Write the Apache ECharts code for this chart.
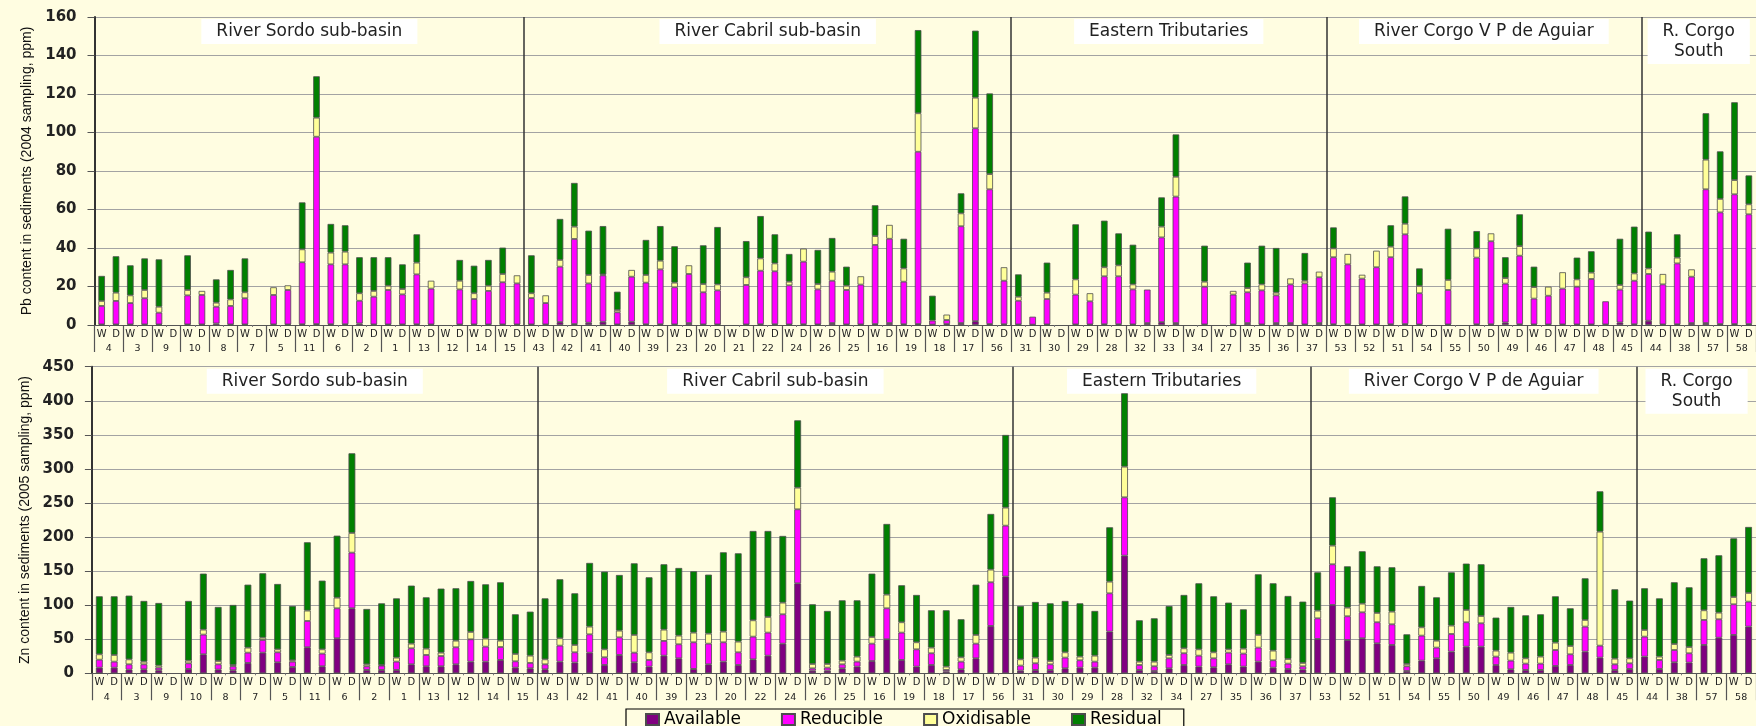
<!DOCTYPE html>
<html><head><meta charset="utf-8">
<script src="https://cdn.jsdelivr.net/npm/echarts@6/dist/echarts.min.js"></script>
<style>html,body{margin:0;padding:0;background:#fffde1;overflow:hidden}#c{width:1756px;height:726px}</style>
</head><body><div id="c"></div><script>
// ---------- DATA ----------
const sampleTypes = ['W', 'D'];
const pbSites = ['4','3','9','10','8','7','5','11','6','2','1','13','12','14','15',
  '43','42','41','40','39','23','20','21','22','24','26','25','16','19','18','17','56',
  '31','30','29','28','32','33','34','27','35','36','37',
  '53','52','51','54','55','50','49','46','47','48','45',
  '44','38','57','58'];
const znSites = ['4','3','9','10','8','7','5','11','6','2','1','13','12','14','15',
  '43','42','41','40','39','23','20','22','24','26','25','16','19','18','17','56',
  '31','30','29','28','32','34','27','35','36','37',
  '53','52','51','54','55','50','49','46','47','48','45',
  '44','38','57','58'];
const regionNames = ['River Sordo sub-basin','River Cabril sub-basin','Eastern Tributaries','River Corgo V P de Aguiar','R. Corgo\nSouth'];
const pbRegionSizes = [15, 17, 11, 11, 4];
const znRegionSizes = [15, 16, 10, 11, 4];
const fractionNames = ['Available', 'Reducible', 'Oxidisable', 'Residual'];
const yTitles = ['Pb content in sediments (2004 sampling, ppm)', 'Zn content in sediments (2005 sampling, ppm)'];

// Pb (2004), values in W,D pairs per site
const pbAvailable = [
  0.3,0.3, 0.3,0.3, 0.3,null, 0.3,0.3, 0.8,0.3, 0.3,null, 0.3,0.3, 0.4,0.5, 0.4,0.4, 0.8,0.3,
  0.3,0.3, 0.4,0.3, null,0.3, 0.3,0.3, 0.3,0.3,
  0.3,0.3, 1.5,0.5, 1.2,1.7, 0.3,1.7, 0.4,0.4, 0.3,1.0, 0.3,0.3, null,0.3, 0.4,0.4, 0.3,0.4, 0.3,1.0, 0.3,0.3, 0.5,1.0, 0.4,0.5, 0.2,0.5, 1.0,2.0, 0.5,0.4,
  0.3,0.2, 0.3,null, 0.3,0.3, 0.4,0.4, 0.3,1.0, 1.5,1.0, null,0.3, null,0.3, 1.0,0.3, 1.0,1.0, 0.3,1.0,
  0.4,0.4, 0.3,0.3, 0.4,0.5, 0.3,null, 0.3,null, 0.4,0.4, 1.3,0.4, 0.3,0.3, 0.3,0.3, 0.3,0.3, 1.3,0.4,
  2.2,0.3, 0.4,1.0, 1.0,0.5, 0.5,0.5];
const pbReducible = [
  9.6,12.2, 11.1,13.6, 6.1,null, 15.1,15.3, 8.7,9.6, 13.6,null, 15.3,17.9, 32.2,97.3, 31.1,31.1, 11.8,14.4,
  17.9,15.6, 25.9,18.6, null,18.2, 13.2,17.4, 21.9,21.3,
  13.7,11.1, 28.8,44.2, 20.4,24.1, 6.3,23.4, 21.6,28.5, 19.3,25.5, 16.7,17.7, null,20.5, 27.8,27.5, 20.3,32.5, 18.2,22.0, 17.9,20.7, 41.1,43.8, 22.1,89.5, 2.1,2.1, 50.3,100.2, 70.0,22.6,
  12.3,4.1, 13.2,null, 15.5,12.0, 24.9,24.9, 18.2,17.4, 44.0,65.7, null,19.6, null,15.5, 16.0,17.7, 14.4,20.1, 21.3,23.8,
  34.8,31.1, 23.8,29.7, 34.8,46.6, 16.2,null, 17.9,null, 34.6,43.1, 20.2,35.6, 13.4,14.9, 18.6,19.6, 23.6,12.0, 17.1,22.6,
  24.3,20.8, 31.6,24.1, 69.5,58.0, 67.4,57.0];
const pbOxidisable = [
  2.6,4.3, 4.0,4.3, 3.1,null, 2.8,2.1, 2.1,3.4, 3.1,null, 4.0,2.4, 6.7,9.9, 6.1,6.6, 3.9,3.0,
  2.2,2.8, 6.1,4.1, null,4.5, 3.0,2.7, 4.3,4.2,
  2.5,4.0, 3.5,6.4, 4.4,0.5, 1.2,3.5, 4.0,4.5, 2.4,4.5, 4.3,3.1, null,4.0, 6.4,4.1, 1.9,6.8, 2.8,4.7, 2.2,4.3, 4.6,7.2, 6.9,20.0, 0,2.8, 6.7,15.9, 7.9,7.0,
  2.1,0, 3.3,null, 7.9,4.2, 4.7,5.7, 2.6,0, 5.6,10.3, null,2.6, null,1.9, 2.2,3.1, 1.4,3.1, 1.4,2.9,
  4.6,5.4, 2.0,8.6, 5.5,5.5, 3.8,null, 5.2,null, 4.8,4.1, 2.9,5.0, 6.0,4.7, 8.5,3.8, 3.3,0, 2.4,3.8,
  2.9,5.4, 3.0,3.8, 15.4,7.0, 7.4,5.2];
const pbResidual = [
  13.0,18.9, 15.6,16.4, 24.6,null, 18.0,0, 12.1,15.3, 17.6,null, 0,0, 24.4,21.5, 14.9,13.7, 18.7,17.5,
  14.8,12.8, 14.7,0, null,10.8, 14.3,13.4, 13.7,0,
  19.7,0, 21.3,22.7, 23.0,25.1, 9.5,0, 18.2,18.0, 18.9,0, 20.1,29.8, null,18.8, 22.0,15.1, 14.4,0, 17.7,17.5, 9.9,0, 16.0,0, 15.4,43.2, 12.9,0, 10.4,34.8, 41.9,0,
  11.6,0, 15.6,null, 28.6,0, 24.2,16.6, 20.6,0, 15.2,22.0, null,18.7, null,0, 13.2,20.1, 23.2,0, 14.4,0,
  10.9,0, 0,0, 11.1,14.2, 9.1,null, 26.6,null, 9.0,0, 10.8,16.5, 10.6,0, 0,11.3, 11.1,0, 24.0,24.3,
  19.1,0, 12.1,0, 24.1,24.7, 40.4,15.0];

// Zn (2005), values in W,D pairs per site
const znAvailable = [
  8.3,8.3, 5.4,5.9, 4.4,null, 6.4,27.9, 5.4,4.4, 15.2,30.3, 16.1,9.3, 38.2,10.3, 51.4,95.4, 4.9,4.9,
  4.9,13.2, 10.3,10.3, 13.2,17.1, 17.1,19.6, 8.3,7.3,
  5.9,17.1, 15.7,30.3, 12.2,26.9, 16.1,9.8, 25.9,22.0, 6.4,13.2, 17.1,12.2, 20.5,25.9, 43.5,132.1, 3.9,3.9, 7.3,9.8, 18.1,49.9, 19.6,9.8, 12.2,2.4, 5.9,22.0, 69.5,141.9,
  3.9,4.9, 4.9,7.3, 8.3,8.3, 61.2,172.7, 4.9,3.4, 7.3,12.2, 9.8,8.8, 13.2,9.8, 17.1,8.3, 6.4,5.4,
  50.4,100.3, 48.9,51.4, 44.0,41.6, 3.4,18.6, 22.0,31.8, 39.1,39.1, 12.2,5.9, 4.9,4.9, 10.8,12.2, 31.8,23.0, 4.9,6.4,
  24.5,6.4, 16.1,15.7, 41.6,52.3, 56.3,68.5];
const znReducible = [
  11.7,8.8, 7.8,7.3, 3.9,null, 8.3,28.9, 7.8,5.9, 15.1,18.6, 14.7,7.8, 38.6,18.6, 44.0,81.7, 5.4,6.4,
  12.2,23.5, 16.6,15.1, 25.0,32.8, 22.0,19.0, 9.3,7.9,
  7.3,23.5, 15.1,26.9, 11.3,25.9, 14.2,9.8, 21.6,20.6, 39.1,30.3, 28.4,18.6, 33.3,33.8, 43.1,108.6, 3.4,4.4, 5.9,7.3, 25.4,45.5, 40.1,25.4, 17.2,2.5, 11.2,21.5, 64.1,74.8,
  7.4,9.8, 8.3,15.7, 10.8,8.8, 56.2,85.6, 7.3,6.9, 14.7,17.2, 16.1,13.2, 17.1,19.1, 20.6,10.8, 7.8,4.9,
  30.3,59.7, 34.8,38.1, 30.9,30.3, 6.9,36.7, 15.7,25.9, 35.8,34.3, 12.3,12.7, 9.3,9.3, 23.4,15.7, 36.7,17.6, 8.3,8.3,
  29.3,13.2, 18.1,13.7, 36.7,27.0, 45.0,36.7];
const znOxidisable = [
  7.9,9.8, 7.3,3.9, 3.0,null, 3.9,7.3, 4.9,1.9, 7.4,3.4, 4.4,2.0, 15.2,6.3, 15.6,28.9, 2.9,0.9,
  5.9,6.8, 9.3,4.9, 9.7,10.8, 11.8,9.3, 10.8,10.7,
  7.3,10.8, 10.8,11.3, 11.7,9.8, 26.0,11.2, 16.6,12.7, 14.2,14.7, 15.7,15.7, 24.0,23.0, 17.1,31.8, 6.4,5.4, 5.4,7.4, 9.8,20.1, 15.2,10.3, 8.3,4.9, 6.4,12.8, 18.6,26.5,
  9.2,8.3, 4.9,7.8, 5.4,8.8, 17.1,45.0, 4.9,6.8, 4.9,7.3, 9.3,8.8, 4.9,7.3, 18.6,14.2, 6.8,4.9,
  11.3,27.4, 12.7,12.7, 13.7,18.6, 3.4,12.2, 10.2,12.3, 18.1,10.7, 8.8,11.7, 7.8,10.3, 10.8,12.2, 9.8,167.3, 8.3,7.3,
  9.8,4.9, 8.8,9.2, 14.2,9.7, 10.7,12.7];
const znResidual = [
  85.1,86.1, 93.5,89.1, 91.9,null, 87.6,82.2, 79.3,88.1, 92.4,94.5, 95.9,79.7, 100.3,100.8, 91.0,116.9, 81.2,90.5,
  87.0,85.2, 75.3,94.0, 76.9,74.8, 79.7,85.7, 58.2,64.6,
  89.5,86.6, 75.8,93.5, 114.0,81.7, 105.1,110.1, 95.9,99.3, 90.0,86.6, 116.4,129.6, 131.1,126.2, 97.9,98.8, 87.6,77.8, 88.5,82.6, 93.0,103.7, 54.3,69.5, 54.8,82.7, 55.8,73.8, 81.7,106.6,
  78.3,81.7, 84.6,75.4, 78.2,65.6, 79.8,107.7, 60.7,63.6, 71.9,78.3, 96.9,82.2, 68.5,57.7, 89.0,98.8, 92.5,90.0,
  56.2,70.9, 60.6,76.9, 68.4,65.1, 43.5,60.7, 63.6,78.2, 68.0,75.9, 48.4,67.1, 63.1,62.1, 68.0,55.3, 61.1,59.2, 101.8,84.7,
  61.2,85.5, 90.6,87.6, 76.3,84.2, 86.1,96.9];

// ---------- CHART ----------
const FONT = 'DejaVu Sans, Verdana, sans-serif';
const colors = ['#800080', '#ff00ff', '#ffff99', '#008000'];
const panels = [
  {sites: pbSites, sizes: pbRegionSizes, parts: [pbAvailable, pbReducible, pbOxidisable, pbResidual], yMax: 160, yStep: 20, nameGap: 60,
   grid: {left: 94.5, top: 17, width: 1663, height: 308}},
  {sites: znSites, sizes: znRegionSizes, parts: [znAvailable, znReducible, znOxidisable, znResidual], yMax: 450, yStep: 50, nameGap: 57,
   grid: {left: 91.9, top: 366.7, width: 1665.5, height: 306.6}}
];

const grid = [], xAxis = [], yAxis = [], series = [];
panels.forEach((p, pi) => {
  grid.push(p.grid);
  const types = p.sites.flatMap(() => sampleTypes);
  xAxis.push({type: 'category', gridIndex: pi, position: 'bottom', data: types, boundaryGap: true,
    axisLine: {onZero: false, lineStyle: {color: '#555', width: 1.2}},
    axisTick: {show: true, interval: 0, length: 2, lineStyle: {color: '#777'}},
    axisLabel: {interval: 0, margin: 4, fontSize: 10, fontFamily: FONT, color: '#222'},
    splitLine: {show: false}});
  xAxis.push({type: 'category', gridIndex: pi, position: 'bottom', data: p.sites, boundaryGap: true,
    axisLine: {show: false},
    axisTick: {show: true, interval: 0, length: 27, lineStyle: {color: '#555', width: 1.2}},
    axisLabel: {interval: 0, margin: 19, fontSize: 9.5, fontFamily: FONT, color: '#222'},
    splitLine: {show: false}});
  xAxis.push({type: 'value', gridIndex: pi, position: 'bottom', min: 0, max: types.length, show: false});
  yAxis.push({type: 'value', gridIndex: pi, min: 0, max: p.yMax, interval: p.yStep,
    name: yTitles[pi], nameLocation: 'middle', nameGap: p.nameGap,
    nameTextStyle: {fontFamily: 'Liberation Sans Narrow, Liberation Sans, Arial, sans-serif', fontSize: 14, color: '#111'},
    axisLine: {show: true, onZero: false, lineStyle: {color: '#333', width: 2}},
    axisTick: {show: true, length: 7, lineStyle: {color: '#555'}},
    axisLabel: {margin: 18, fontSize: 15, fontWeight: 'bold', fontFamily: FONT, color: '#222'},
    splitLine: {show: true, lineStyle: {color: '#a3a3a3', width: 1.2}}});
  fractionNames.forEach((n, k) => {
    series.push({name: n, type: 'bar', xAxisIndex: pi * 3, yAxisIndex: pi, stack: 'panel' + pi,
      barWidth: '46%',
      data: p.parts[k].map(v => (v == null || v <= 0) ? null : v),
      itemStyle: {color: colors[k], borderColor: '#4d4d4d', borderWidth: 0.8},
      emphasis: {disabled: true}, animation: false});
  });
  // region dividers and labels
  let acc = 0;
  const bounds = [], areas = [];
  p.sizes.forEach((s, i) => {
    const a = acc; acc += s * sampleTypes.length;
    areas.push([{xAxis: a, name: regionNames[i]}, {xAxis: acc}]);
    if (i < p.sizes.length - 1) bounds.push({xAxis: acc});
  });
  series.push({type: 'line', xAxisIndex: pi * 3 + 2, yAxisIndex: pi, data: [], silent: true, animation: false,
    markLine: {symbol: 'none', silent: true, animation: false, label: {show: false},
      lineStyle: {color: '#333', width: 1.5, type: 'solid'}, data: bounds},
    markArea: {silent: true, animation: false, itemStyle: {color: 'rgba(0,0,0,0)'},
      label: {show: true, position: 'insideTop', distance: 2, backgroundColor: '#ffffff',
        padding: [3, 15, 2, 15], fontFamily: FONT, fontSize: 17, color: '#222', lineHeight: 20},
      data: areas}});
});

const chart = echarts.init(document.getElementById('c'), null, {renderer: 'canvas'});
chart.setOption({
  backgroundColor: '#fffde1',
  animation: false,
  grid, xAxis, yAxis, series,
  legend: {data: fractionNames, left: 626, top: 709, icon: 'rect', itemWidth: 13, itemHeight: 11, itemGap: 40,
    padding: [2, 22, 2, 19], borderColor: '#000', borderWidth: 1.2,
    textStyle: {fontFamily: FONT, fontSize: 17, color: '#000'}, selectedMode: false}
});
</script></body></html>
